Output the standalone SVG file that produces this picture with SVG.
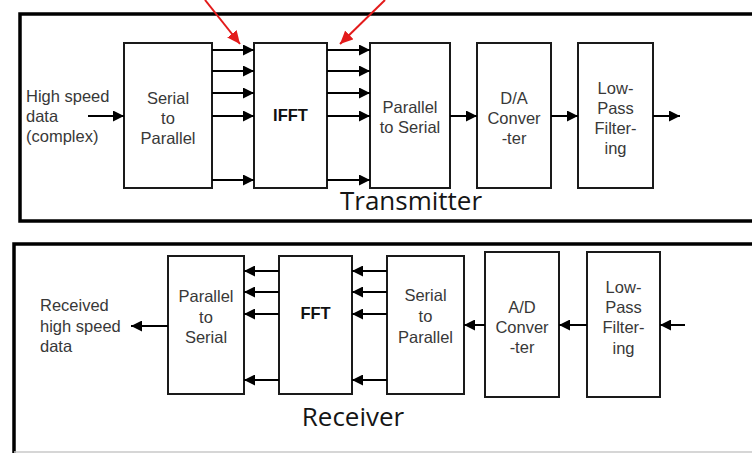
<svg xmlns="http://www.w3.org/2000/svg" width="752" height="453" viewBox="0 0 752 453">
<defs>
<marker id="ah" markerUnits="userSpaceOnUse" markerWidth="12" markerHeight="11" refX="11" refY="5.5" orient="auto"><path d="M0,0 L11,5.5 L0,11 z" fill="#000"/></marker>
<marker id="ahr" markerUnits="userSpaceOnUse" markerWidth="14" markerHeight="12" refX="13" refY="6" orient="auto"><path d="M0,0 L13,6 L0,12 z" fill="#e31b1b"/></marker>
<style>
.frame{fill:none;stroke:#000;stroke-width:3.5}
.box{fill:#fff;stroke:#1a1a1a;stroke-width:2}
.c{stroke:#000;stroke-width:2;fill:none;marker-end:url(#ah)}
.r{stroke:#e31b1b;stroke-width:2;fill:none;marker-end:url(#ahr)}
.t{font-family:"Liberation Sans",Arial,sans-serif;font-size:16.5px;fill:#383838}
.m{text-anchor:middle}
.b{font-weight:bold;fill:#111}
.h{font-family:"Open Sans","DejaVu Sans",sans-serif;font-size:26px;fill:#151515;text-anchor:middle}
</style>
</defs>
<rect width="752" height="453" fill="#fff"/>
<g id="frames">
<rect class="frame" x="20" y="14" width="760" height="207"/>
<path class="frame" d="M14,453 V244 H760"/>
<line x1="14" y1="452" x2="752" y2="452" stroke="#c8c8c8" stroke-width="1.5"/>
</g>
<g id="tx-input"><text class="t" x="26" y="102">High speed</text><text class="t" x="26" y="122">data</text><text class="t" x="26" y="142">(complex)</text></g>
<g id="tx-s2p"><rect class="box" x="124" y="43" width="88" height="145"/><text class="t m" x="168" y="104">Serial</text><text class="t m" x="168" y="124">to</text><text class="t m" x="168" y="144">Parallel</text></g>
<g id="tx-ifft"><rect class="box" x="254" y="43" width="73" height="145"/><text class="t m b" x="290.5" y="121">IFFT</text></g>
<g id="tx-p2s"><rect class="box" x="370" y="43" width="80" height="145"/><text class="t m" x="410" y="113">Parallel</text><text class="t m" x="410" y="133">to Serial</text></g>
<g id="tx-da"><rect class="box" x="477" y="43" width="74" height="145"/><text class="t m" x="514" y="104">D/A</text><text class="t m" x="514" y="124">Conver</text><text class="t m" x="514" y="144">-ter</text></g>
<g id="tx-lpf"><rect class="box" x="578" y="43" width="75" height="145"/><text class="t m" x="615.5" y="94">Low-</text><text class="t m" x="615.5" y="114">Pass</text><text class="t m" x="615.5" y="134">Filter-</text><text class="t m" x="615.5" y="154">ing</text></g>
<g id="tx-title"><text class="h" x="411" y="210">Transmitter</text></g>
<g id="rx-output"><text class="t" x="40" y="311">Received</text><text class="t" x="40" y="331.5">high speed</text><text class="t" x="40" y="352">data</text></g>
<g id="rx-p2s"><rect class="box" x="168" y="256" width="76" height="138"/><text class="t m" x="206" y="302">Parallel</text><text class="t m" x="206" y="323">to</text><text class="t m" x="206" y="343">Serial</text></g>
<g id="rx-fft"><rect class="box" x="279" y="256" width="73" height="138"/><text class="t m b" x="315.5" y="319">FFT</text></g>
<g id="rx-s2p"><rect class="box" x="387" y="256" width="77" height="138"/><text class="t m" x="425.5" y="301">Serial</text><text class="t m" x="425.5" y="322">to</text><text class="t m" x="425.5" y="343">Parallel</text></g>
<g id="rx-ad"><rect class="box" x="485" y="252" width="74" height="145"/><text class="t m" x="522" y="313">A/D</text><text class="t m" x="522" y="333">Conver</text><text class="t m" x="522" y="353">-ter</text></g>
<g id="rx-lpf"><rect class="box" x="587" y="252" width="73" height="145"/><text class="t m" x="623.5" y="293">Low-</text><text class="t m" x="623.5" y="313">Pass</text><text class="t m" x="623.5" y="333">Filter-</text><text class="t m" x="623.5" y="354">ing</text></g>
<g id="rx-title"><text class="h" x="353" y="426">Receiver</text></g>
<g id="connectors">
<line class="c" x1="88" y1="116" x2="124" y2="116"/>
<line class="c" x1="212" y1="50" x2="254" y2="50"/>
<line class="c" x1="212" y1="71" x2="254" y2="71"/>
<line class="c" x1="212" y1="93" x2="254" y2="93"/>
<line class="c" x1="212" y1="116" x2="254" y2="116"/>
<line class="c" x1="212" y1="180" x2="254" y2="180"/>
<line class="c" x1="327" y1="50" x2="370" y2="50"/>
<line class="c" x1="327" y1="71" x2="370" y2="71"/>
<line class="c" x1="327" y1="93" x2="370" y2="93"/>
<line class="c" x1="327" y1="116" x2="370" y2="116"/>
<line class="c" x1="327" y1="180" x2="370" y2="180"/>
<line class="c" x1="450" y1="116" x2="477" y2="116"/>
<line class="c" x1="551" y1="116" x2="578" y2="116"/>
<line class="c" x1="653" y1="116" x2="680" y2="116"/>
<line class="r" x1="205" y1="0" x2="240" y2="44"/>
<line class="r" x1="385" y1="0" x2="340" y2="44"/>
<line class="c" x1="685" y1="325" x2="660" y2="325"/>
<line class="c" x1="587" y1="325" x2="559" y2="325"/>
<line class="c" x1="485" y1="325" x2="464" y2="325"/>
<line class="c" x1="387" y1="271" x2="352" y2="271"/>
<line class="c" x1="387" y1="292" x2="352" y2="292"/>
<line class="c" x1="387" y1="314" x2="352" y2="314"/>
<line class="c" x1="387" y1="380" x2="352" y2="380"/>
<line class="c" x1="279" y1="271" x2="244" y2="271"/>
<line class="c" x1="279" y1="292" x2="244" y2="292"/>
<line class="c" x1="279" y1="314" x2="244" y2="314"/>
<line class="c" x1="279" y1="380" x2="244" y2="380"/>
<line class="c" x1="168" y1="326" x2="131" y2="326"/>
</g>
</svg>
